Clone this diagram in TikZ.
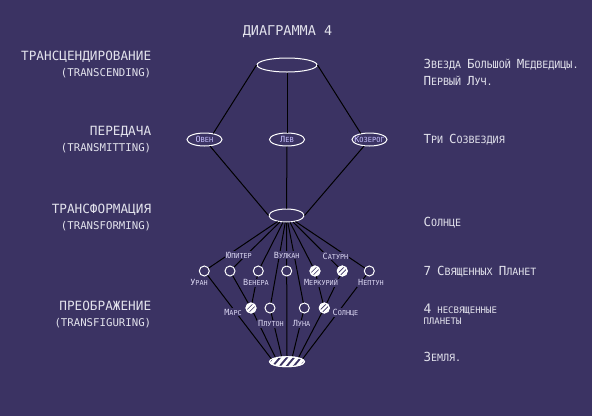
\documentclass[tikz,border=0pt]{standalone}
\usepackage{fontspec}
\setmainfont{DejaVu Sans Mono}
\usetikzlibrary{shapes.geometric}
\definecolor{bgcol}{RGB}{59,51,99}
\definecolor{txtcol}{RGB}{226,226,236}
\definecolor{plcol}{RGB}{218,214,242}
\definecolor{lavcol}{RGB}{200,192,255}
% first letter big, the rest small
\newcommand{\pcap}[2]{{\fontsize{8.5}{8.5}\selectfont #1}{\fontsize{6.8}{6.8}\selectfont #2}}
\newcommand{\ecap}[2]{{\fontsize{8.5}{8.5}\selectfont #1}{\fontsize{7}{7}\selectfont #2}}
\newcommand{\rcap}[2]{{\fontsize{12.5}{12.5}\selectfont #1}{\fontsize{10}{10}\selectfont #2}}
\tikzset{
  elnode/.style={ellipse, draw=white, minimum width=35pt, minimum height=13pt, inner sep=0pt},
  planet/.style={circle, draw=white, fill=bgcol, minimum size=10pt, inner sep=0pt},
  pllabel/.style={anchor=base, fill=bgcol, inner sep=0.8pt, text=plcol},
  lefthead/.style={anchor=base east, text=txtcol, font=\fontsize{12.7}{12.7}\selectfont},
  leftsub/.style={anchor=base east, text=txtcol, font=\fontsize{10.7}{10.7}\selectfont},
  righttext/.style={anchor=base west, text=txtcol, inner sep=0pt},
}
\begin{document}
\begin{tikzpicture}[x=1pt,y=-1pt,line width=1pt]
\fill[bgcol] (0,0) rectangle (592,416);
\useasboundingbox (0,0) rectangle (592,416);

\node[anchor=base, text=txtcol, font=\fontsize{13.5}{13.5}\selectfont] (title) at (287.5,35) {ДИАГРАММА 4};

% the ellipses
\node[elnode, minimum width=60pt, minimum height=14pt] (elTop) at (287,65) {};
\node[elnode] (elOven) at (204.5,139.5) {};
\node[elnode] (elLev) at (287,139.5) {};
\node[elnode] (elKoz) at (369.5,139.5) {};
\node[elnode] (elSun) at (286.5,215.5) {};
\node[elnode, minimum height=10pt] (elEarth) at (287,361.7) {};

\draw (elTop.west)--(elOven.35);
\draw (elTop.south)--(elLev.north);
\draw (elTop.east)--(elKoz.145);
\draw (elOven.-50)--(elSun.west);
\draw (elLev.south)--(elSun.north);
\draw (elKoz.-130)--(elSun.east);

\node[anchor=base, text=lavcol, inner sep=0pt] (tOven) at (204.5,142.7) {\ecap{О}{ВЕН}};
\node[anchor=base, text=lavcol, inner sep=0pt] (tLev) at (287,142.7) {\ecap{Л}{ЕВ}};
\node[anchor=base, text=lavcol, inner sep=0pt] (tKoz) at (369.5,142.7) {\ecap{К}{ОЗЕРОГ}};

% planets
\foreach \n/\x/\y in {Uran/204.3/271, Jupiter/230/271, Venera/258.3/271, Vulkan/286.7/271,
  Merkury/315/271, Saturn/342.3/271, Neptun/369.3/271,
  Mars/251/308, Pluton/270/308, Luna/304.3/308, Solnce/324.3/308}
{
    \node[planet] (p\n) at (\x,\y) {};
};

\foreach \n in {Uran, Jupiter, Venera, Pluton, Vulkan, Luna, Merkury, Saturn, Neptun}
{
    \draw (elSun)--(p\n);
};
\foreach \u/\v in {Jupiter/Mars, Venera/Mars, Merkury/Solnce, Saturn/Solnce}
{
    \draw (p\u)--(p\v);
};
\foreach \n/\a in {Uran/170, Mars/160, Pluton/136, Vulkan/90, Luna/44, Solnce/20, Neptun/10}
{
    \draw (p\n)--(elEarth.\a);
};

% hatched planets
\foreach \n in {Mars, Merkury, Saturn, Solnce}
{
    \begin{scope}
    \clip (p\n.center) circle (5);
    \foreach \k in {-9,-4.5,...,9}
        \draw[white, line width=2.2pt, shift={(p\n.center)}] (\k-6,6)--(\k+6,-6);
    \end{scope}
    \draw[white] (p\n.center) circle (5);
};

% the earth
\begin{scope}
\clip (elEarth.center) ellipse [x radius=17.5, y radius=5];
\foreach \k in {-21,-14,...,21}
    \draw[white, line width=3.2pt, shift={(elEarth.center)}] (\k-5,6)--(\k+5,-6);
\end{scope}
\draw[white] (elEarth.center) ellipse [x radius=17.5, y radius=5];

% planet names
\node[pllabel] (lJupiter) at (239,258.3) {\pcap{Ю}{ПИТЕР}};
\node[pllabel] (lVulkan) at (286.7,258.3) {\pcap{В}{УЛКАН}};
\node[pllabel] (lSaturn) at (335.5,259.3) {\pcap{С}{АТУРН}};
\node[pllabel] (lUran) at (199,285.7) {\pcap{У}{РАН}};
\node[pllabel] (lVenera) at (256,285.7) {\pcap{В}{ЕНЕРА}};
\node[pllabel] (lMerkury) at (321,285.7) {\pcap{М}{ЕРКУРИЙ}};
\node[pllabel] (lNeptun) at (371,285.7) {\pcap{Н}{ЕПТУН}};
\node[pllabel] (lMars) at (233,315) {\pcap{М}{АРС}};
\node[pllabel] (lSolnce) at (345.5,315) {\pcap{С}{ОЛНЦЕ}};
\node[pllabel] (lPluton) at (271,326.7) {\pcap{П}{ЛУТОН}};
\node[pllabel] (lLuna) at (301.5,326.7) {\pcap{Л}{УНА}};

% left column
\node[lefthead] (hTrans) at (155,60.7) {ТРАНСЦЕНДИРОВАНИЕ};
\node[leftsub] (sTrans) at (155,76.8) {(TRANSCENDING)};
\node[lefthead] (hPered) at (155,135) {ПЕРЕДАЧА};
\node[leftsub] (sPered) at (155,151) {(TRANSMITTING)};
\node[lefthead] (hForm) at (155,213.3) {ТРАНСФОРМАЦИЯ};
\node[leftsub] (sForm) at (155,229) {(TRANSFORMING)};
\node[lefthead] (hPreob) at (155,310) {ПРЕОБРАЖЕНИЕ};
\node[leftsub] (sPreob) at (155,326.3) {(TRANSFIGURING)};

% right column
\node[righttext] (rStar) at (423,68.3) {\rcap{З}{ВЕЗДА} \rcap{Б}{ОЛЬШОЙ} \rcap{М}{ЕДВЕДИЦЫ.}};
\node[righttext] (rRay) at (423,85) {\rcap{П}{ЕРВЫЙ} \rcap{Л}{УЧ.}};
\node[righttext] (rConst) at (423,143.5) {\rcap{Т}{РИ} \rcap{С}{ОЗВЕЗДИЯ}};
\node[righttext] (rSun) at (423,226) {\rcap{С}{ОЛНЦЕ}};
\node[righttext] (rSeven) at (423,275) {\rcap{7}{} \rcap{С}{ВЯЩЕННЫХ} \rcap{П}{ЛАНЕТ}};
\node[righttext] (rFour) at (423,313.3) {{\fontsize{13}{13}\selectfont 4} {\fontsize{9}{9}\selectfont НЕСВЯЩЕННЫЕ}};
\node[righttext] (rFourB) at (423,324.3) {\fontsize{9}{9}\selectfont ПЛАНЕТЫ};
\node[righttext] (rEarth) at (423,361.7) {\rcap{З}{ЕМЛЯ.}};

\end{tikzpicture}
\end{document}
